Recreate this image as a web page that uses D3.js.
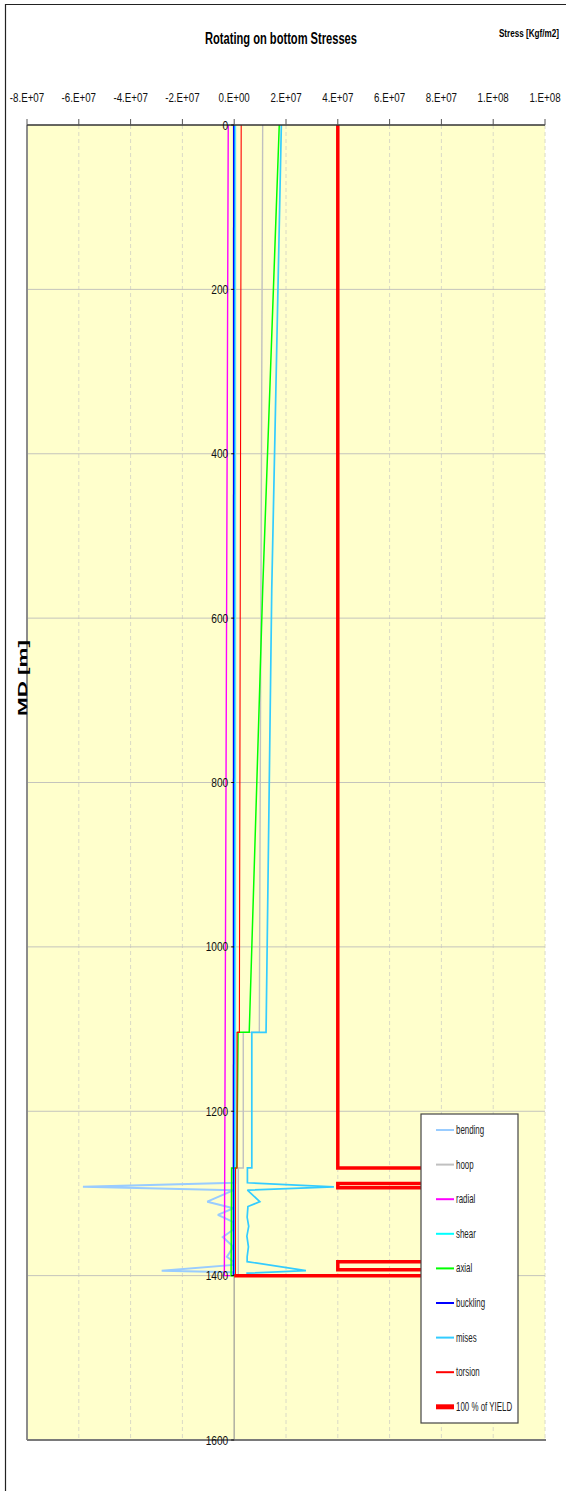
<!DOCTYPE html>
<html>
<head>
<meta charset="utf-8">
<script src="https://cdn.jsdelivr.net/npm/d3@7"></script>
<style>
  html, body { margin: 0; padding: 0; background: #ffffff; }
  svg { display: block; font-family: "Liberation Sans", Arial, sans-serif; }
</style>
</head>
<body>
<svg id="chart" width="566" height="1491"></svg>
<script>
// Stress axis ticks (Kgf/m2) and depth axis ticks (m)
const xTicks = [-8e7, -6e7, -4e7, -2e7, 0, 2e7, 4e7, 6e7, 8e7, 1e8, 1.2e8];
const xTickLabels = ["-8.E+07", "-6.E+07", "-4.E+07", "-2.E+07", "0.E+00", "2.E+07", "4.E+07", "6.E+07", "8.E+07", "1.E+08", "1.E+08"];
const yTicks = [0, 200, 400, 600, 800, 1000, 1200, 1400, 1600];

// Each series: [measured depth (m), stress (Kgf/m2)]
const bending = [[0, 4e5], [1287, 4e5], [1292, -5.84e7], [1296, -2e5], [1310, -1.04e7], [1318, -3e5],
  [1326, -6.3e6], [1335, -3e5], [1344, -3e5], [1353, -4.4e6], [1365, -3e5], [1377, -2.8e6],
  [1383, -3e5], [1387, -3e5], [1394, -2.8e7], [1396, -3e5], [1400, -3e5]];
const hoop = [[0, 1.1e7], [1104, 9.7e6], [1104, 3.5e6], [1269, 3.5e6], [1269, 1.6e6], [1400, 1.6e6]];
const radial = [[0, -2.3e6], [1400, -3.8e6], [1400, -1.5e6]];
const shear = [[0, 2e5], [1104, 2e5], [1104, 1e5], [1400, 1e5]];
const axial = [[0, 1.74e7], [565, 1.1e7], [1104, 5.8e6], [1104, 1.5e6], [1269, 1.0e6], [1269, -1.0e6], [1400, -1.2e6], [1400, -2e5]];
const buckling = [[0, -2e5], [1400, -3e5]];
const mises = [[0, 1.82e7], [565, 1.45e7], [1104, 1.23e7], [1104, 6.8e6], [1269, 6.8e6], [1269, 5.1e6],
  [1287, 5.1e6], [1292, 3.85e7], [1296, 5.1e6], [1310, 9.9e6], [1316, 5.3e6], [1329, 5.0e6],
  [1340, 5.6e6], [1352, 4.9e6], [1365, 5.5e6], [1377, 5.0e6], [1383, 5.0e6], [1394, 2.77e7],
  [1397, 5.0e6], [1400, 5.0e6]];
const torsion = [[0, 2.7e6], [1104, 2.0e6], [1104, 1.1e6], [1269, 1.1e6], [1269, 5e5], [1400, 5e5]];
const yieldLimit = [[0, 4e7], [1269, 4e7], [1269, 9e7], [1288, 9e7], [1288, 4e7], [1293, 4e7], [1293, 9e7],
  [1383, 9e7], [1383, 4e7], [1393, 4e7], [1393, 9e7], [1400, 9e7], [1400, 0]];

const seriesNames = ["bending", "hoop", "radial", "shear", "axial", "buckling", "mises", "torsion", "100 % of YIELD"];
const seriesData = [bending, hoop, radial, shear, axial, buckling, mises, torsion, yieldLimit];
const seriesColors = ["#99CCFF", "#C0C0C0", "#FF00FF", "#00FFFF", "#00FF00", "#0000FF", "#33CCFF", "#FF0000", "#FF0000"];
const seriesWidths = [2, 1.4, 1.4, 1.4, 1.5, 1.5, 1.7, 1.1, 3.5];

const svg = d3.select("#chart");
const plot = { left: 27, right: 545, top: 125, bottom: 1440 };

const x = d3.scaleLinear().domain([-8e7, 1.2e8]).range([plot.left, plot.right]);
const y = d3.scaleLinear().domain([0, 1600]).range([plot.top, plot.bottom]);

// outer frame
svg.append("path")
  .attr("d", `M5.5,1495 V4.5 H570`)
  .attr("fill", "none").attr("stroke", "#222").attr("stroke-width", 1.2);

// plot background
svg.append("rect")
  .attr("x", plot.left).attr("y", plot.top)
  .attr("width", plot.right - plot.left).attr("height", plot.bottom - plot.top)
  .attr("fill", "#FFFFCC");

svg.append("defs").append("clipPath").attr("id", "plotClip")
  .append("rect")
  .attr("x", plot.left).attr("y", plot.top)
  .attr("width", plot.right - plot.left).attr("height", plot.bottom - plot.top);

// vertical dashed grid
svg.append("g").selectAll("line")
  .data(xTicks.filter(v => v !== 0 && v !== -8e7))
  .join("line")
  .attr("x1", d => x(d)).attr("x2", d => x(d))
  .attr("y1", plot.top).attr("y2", plot.bottom)
  .attr("stroke", "#DADAC6").attr("stroke-width", 1)
  .attr("stroke-dasharray", "4,3");

// horizontal grid
svg.append("g").selectAll("line")
  .data(yTicks.filter(v => v !== 0 && v !== 1600))
  .join("line")
  .attr("x1", plot.left).attr("x2", plot.right)
  .attr("y1", d => y(d)).attr("y2", d => y(d))
  .attr("stroke", "#C4C4BC").attr("stroke-width", 1);

// zero stress axis
svg.append("line")
  .attr("x1", x(0)).attr("x2", x(0))
  .attr("y1", plot.top).attr("y2", plot.bottom)
  .attr("stroke", "#B4B4A4").attr("stroke-width", 1.6);

// plot borders
svg.append("line")
  .attr("x1", plot.left).attr("x2", plot.left)
  .attr("y1", plot.top).attr("y2", plot.bottom)
  .attr("stroke", "#8C8C8C").attr("stroke-width", 2);
svg.append("line")
  .attr("x1", plot.left).attr("x2", plot.right + 1)
  .attr("y1", plot.bottom).attr("y2", plot.bottom)
  .attr("stroke", "#7A7A7A").attr("stroke-width", 2);

// series
const line = d3.line().x(d => x(d[1])).y(d => y(d[0]));
const seriesG = svg.append("g").attr("clip-path", "url(#plotClip)");
seriesData.forEach((data, i) => {
  seriesG.append("path")
    .datum(data)
    .attr("d", line)
    .attr("fill", "none")
    .attr("stroke", seriesColors[i])
    .attr("stroke-width", seriesWidths[i])
    .attr("stroke-linejoin", "miter")
    .attr("stroke-miterlimit", 2);
});

// top stress axis
svg.append("line")
  .attr("x1", plot.left).attr("x2", plot.right)
  .attr("y1", plot.top).attr("y2", plot.top)
  .attr("stroke", "#333").attr("stroke-width", 1.6);
const xAxisG = svg.append("g");
xAxisG.selectAll("line")
  .data(xTicks).join("line")
  .attr("x1", d => x(d)).attr("x2", d => x(d))
  .attr("y1", plot.top - 6).attr("y2", plot.top)
  .attr("stroke", "#555").attr("stroke-width", 1);
xAxisG.selectAll("text")
  .data(xTicks).join("text")
  .attr("transform", d => `translate(${x(d)},102) scale(0.75,1)`)
  .attr("text-anchor", "middle")
  .attr("font-size", 13)
  .attr("fill", "#111")
  .text((d, i) => xTickLabels[i]);

// depth labels along zero axis
const yAxisG = svg.append("g");
yAxisG.selectAll("line")
  .data(yTicks).join("line")
  .attr("x1", x(0) - 3).attr("x2", x(0))
  .attr("y1", d => y(d)).attr("y2", d => y(d))
  .attr("stroke", "#111").attr("stroke-width", 1);
yAxisG.selectAll("text")
  .data(yTicks).join("text")
  .attr("transform", d => `translate(${x(0) - 6},${y(d) + 4.5}) scale(0.78,1)`)
  .attr("text-anchor", "end")
  .attr("font-size", 13)
  .attr("fill", "#111")
  .text(d => d);

// titles
svg.append("text")
  .attr("x", 281).attr("y", 44)
  .attr("text-anchor", "middle")
  .attr("font-size", 16).attr("font-weight", "bold")
  .attr("textLength", 152).attr("lengthAdjust", "spacingAndGlyphs")
  .text("Rotating on bottom Stresses");
svg.append("text")
  .attr("transform", "translate(559,37) scale(0.74,1)")
  .attr("text-anchor", "end")
  .attr("font-size", 11).attr("font-weight", "bold")
  .text("Stress [Kgf/m2]");
svg.append("text")
  .attr("transform", "translate(22,678) rotate(-90)")
  .attr("text-anchor", "middle")
  .attr("dominant-baseline", "central")
  .attr("font-size", 13).attr("font-weight", "bold")
  .attr("textLength", 76).attr("lengthAdjust", "spacingAndGlyphs")
  .text("MD [m]");

// legend
const lg = svg.append("g");
lg.append("rect")
  .attr("x", 421).attr("y", 1114).attr("width", 97).attr("height", 309)
  .attr("fill", "#ffffff").attr("stroke", "#444").attr("stroke-width", 1.2);
seriesNames.forEach((name, i) => {
  const ly = 1130 + i * 34.6;
  lg.append("line")
    .attr("x1", 436).attr("x2", 454)
    .attr("y1", ly).attr("y2", ly)
    .attr("stroke", seriesColors[i])
    .attr("stroke-width", i === 8 ? 5 : 2);
  lg.append("text")
    .attr("transform", `translate(456,${ly + 4}) scale(0.66,1)`)
    .attr("font-size", 12)
    .attr("fill", "#222")
    .text(name);
});
</script>
</body>
</html>
